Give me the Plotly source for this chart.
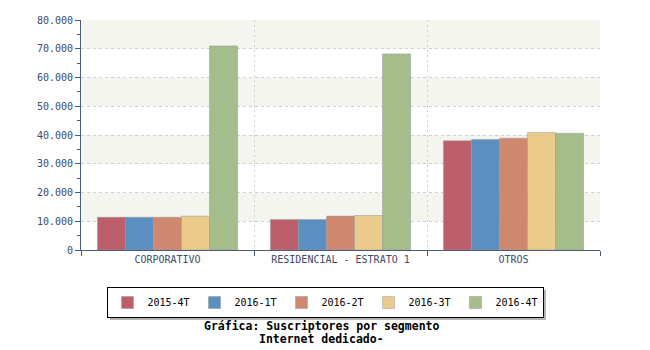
import plotly.graph_objects as go

categories = ["CORPORATIVO", "RESIDENCIAL - ESTRATO 1", "OTROS"]
series_names = ["2015-4T", "2016-1T", "2016-2T", "2016-3T", "2016-4T"]
v_2015_4T = [11400, 10600, 38000]
v_2016_1T = [11400, 10600, 38400]
v_2016_2T = [11400, 11800, 38900]
v_2016_3T = [11800, 12000, 40900]
v_2016_4T = [71000, 68200, 40600]
values = [v_2015_4T, v_2016_1T, v_2016_2T, v_2016_3T, v_2016_4T]
colors = ["#bd5f6a", "#5b8fbf", "#cf8870", "#ebcb8b", "#a4bd8b"]

font_fam = "DejaVu Sans Mono, monospace"
axis_col = "#4a5a80"
text_col = "#3d4a6a"

fig = go.Figure()
for name, vals, col in zip(series_names, values, colors):
    fig.add_trace(go.Bar(x=categories, y=vals, name=name,
                         marker=dict(color=col, line=dict(width=0.5, color="#999999"))))

shapes = []
# alternating bands
for lo in range(0, 80000, 10000):
    if (lo // 10000) % 2 == 1:
        shapes.append(dict(type="rect", xref="paper", yref="y", x0=0, x1=1, y0=lo, y1=lo + 10000,
                           fillcolor="#f5f5f0", line=dict(width=0), layer="below"))

leg_top = 287
leg_left, leg_right, leg_h = 107, 543, 30
off = 3
# legend shadow
shapes.append(dict(type="rect", xref="paper", yref="paper",
                   x0=(leg_left + off - 81) / 519, x1=(leg_right + off - 81) / 519,
                   y0=(250 - (leg_top + leg_h + off)) / 230, y1=(250 - (leg_top + off)) / 230,
                   fillcolor="#b4b4b4", line=dict(width=0), layer="below"))

fig.update_layout(
    width=650, height=350,
    margin=dict(l=81, r=50, t=20, b=100),
    paper_bgcolor="white", plot_bgcolor="white",
    separators=",.",
    barmode="group", bargap=0.19, bargroupgap=0,
    font=dict(family=font_fam, size=10, color=text_col),
    showlegend=True,
    legend=dict(orientation="h", x=(325 - 81) / 519, xanchor="center", y=(250 - leg_top) / 230, yanchor="top",
                bgcolor="white", bordercolor="#000000", borderwidth=1,
                font=dict(family=font_fam, size=10, color="#000000"),
                itemwidth=30, traceorder="normal", entrywidth=42, entrywidthmode="pixels"),
    shapes=shapes,
    annotations=[
        dict(text="<b>Gráfica: Suscriptores por segmento</b>", xref="paper", yref="paper",
             x=(321 - 81) / 519, y=(250 - 326) / 230, xanchor="center", yanchor="middle",
             showarrow=False, font=dict(family=font_fam, size=11.5, color="#000000")),
        dict(text="<b>Internet dedicado-</b>", xref="paper", yref="paper",
             x=(321 - 81) / 519, y=(250 - 339) / 230, xanchor="center", yanchor="middle",
             showarrow=False, font=dict(family=font_fam, size=11.5, color="#000000")),
    ],
)
fig.update_xaxes(
    showline=True, linecolor=axis_col, linewidth=1,
    ticks="outside", tickson="boundaries", ticklen=5, tickcolor=axis_col,
    showgrid=True, gridcolor="#d0d0d0", griddash="2px,3px", gridwidth=1,
    tickfont=dict(family=font_fam, size=10, color=text_col),
)
fig.update_yaxes(
    range=[0, 80000], dtick=10000, tickformat=",d",
    showline=True, linecolor=axis_col, linewidth=1,
    ticks="outside", ticklen=5, tickcolor=axis_col,
    minor=dict(ticks="outside", ticklen=3, dtick=5000, tickcolor=axis_col, showgrid=False),
    showgrid=True, gridcolor="#d0d0d0", griddash="3px,3px", gridwidth=1,
    zeroline=False,
    tickfont=dict(family=font_fam, size=10, color=text_col),
)

fig.write_html("out.html")
